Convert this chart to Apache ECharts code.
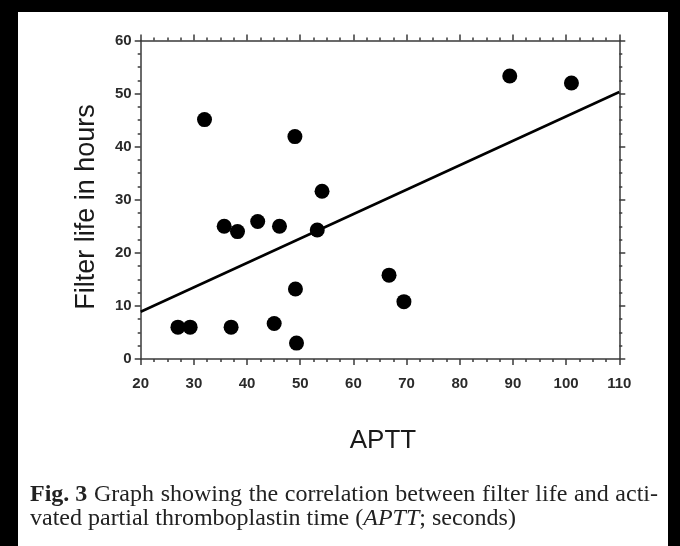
<!DOCTYPE html>
<html>
<head>
<meta charset="utf-8">
<script src="https://cdn.jsdelivr.net/npm/echarts@6/dist/echarts.min.js"></script>
<style>
html,body{margin:0;padding:0;background:#000;}
#chart{width:680px;height:546px;}
</style>
</head>
<body>
<div id="chart"></div>
<script>
// Data
var aptt = [27, 29.3, 37, 35.7, 38.2, 42.0, 46.1, 53.2, 49.1, 45.1, 49.3, 32.0, 49.0, 54.1, 66.7, 69.5, 89.4, 101.0];
var filterLife = [6, 6, 6, 25, 24, 25.9, 25, 24.3, 13.2, 6.7, 3.0, 45.1, 41.9, 31.6, 15.8, 10.8, 53.3, 52.0];
var fitX = [20, 110];
var fitY = [8.9, 50.3];
var xTicks = [20, 30, 40, 50, 60, 70, 80, 90, 100, 110];
var yTicks = [0, 10, 20, 30, 40, 50, 60];
var xTitle = 'APTT';
var yTitle = 'Filter life in hours';
var captionBold = 'Fig. 3';
var captionLine1 = 'Graph showing the correlation between filter life and acti-';
var captionLine2a = 'vated partial thromboplastin time (';
var captionLine2b = 'APTT';
var captionLine2c = '; seconds)';

var points = aptt.map(function (x, i) { return [x, filterLife[i]]; });
var fit = fitX.map(function (x, i) { return [x, fitY[i]]; });

var axisColor = '#3a3a3a';
function xAxisDef(pos, showLabel) {
  return {
    type: 'value', position: pos, min: xTicks[0], max: xTicks[xTicks.length - 1], interval: 10,
    axisLine: { show: true, onZero: false, lineStyle: { color: axisColor, width: 1.5 } },
    axisTick: { show: true, inside: false, length: 6, lineStyle: { color: axisColor, width: 1.5 } },
    minorTick: { show: true, splitNumber: 4, length: 3, lineStyle: { color: axisColor, width: 1.5 } },
    splitLine: { show: false },
    axisLabel: { show: showLabel, margin: 17, color: '#2a2a2a', fontFamily: 'Liberation Sans, Arial', fontWeight: 'bold', fontSize: 15 }
  };
}
function yAxisDef(pos, showLabel) {
  return {
    type: 'value', position: pos, min: yTicks[0], max: yTicks[yTicks.length - 1], interval: 10,
    axisLine: { show: true, onZero: false, lineStyle: { color: axisColor, width: 1.5 } },
    axisTick: { show: true, inside: false, length: 6, lineStyle: { color: axisColor, width: 1.5 } },
    minorTick: { show: true, splitNumber: 4, length: 3, lineStyle: { color: axisColor, width: 1.5 } },
    splitLine: { show: false },
    axisLabel: { show: showLabel, margin: 9, color: '#2a2a2a', fontFamily: 'Liberation Sans, Arial', fontWeight: 'bold', fontSize: 15 }
  };
}

// Justify caption line 1 between left and right edges
var capSize = 24;
var capFont = capSize + 'px "Liberation Serif"';
var capBoldFont = 'bold ' + capSize + 'px "Liberation Serif"';
var ctx = document.createElement('canvas').getContext('2d');
var words = [{ t: captionBold, bold: true }].concat(captionLine1.split(' ').map(function (w) { return { t: w, bold: false }; }));
var widths = words.map(function (w) { ctx.font = w.bold ? capBoldFont : capFont; return ctx.measureText(w.t).width; });
var leftEdge = 30, rightEdge = 658;
var total = widths.reduce(function (a, b) { return a + b; }, 0);
var gap = Math.max(4, (rightEdge - leftEdge - total) / (words.length - 1));
var capGraphics = [];
var cx = leftEdge;
words.forEach(function (w, i) {
  capGraphics.push({ type: 'text', x: cx, y: 495, style: { text: w.t, font: w.bold ? capBoldFont : capFont, fill: '#222', textVerticalAlign: 'middle' } });
  cx += widths[i] + gap;
});
capGraphics.push({ type: 'text', x: 30, y: 519, style: { rich: {
    n: { fontFamily: 'Liberation Serif', fontSize: capSize, fill: '#222' },
    i: { fontFamily: 'Liberation Serif', fontStyle: 'italic', fontSize: capSize, fill: '#222' }
  }, text: '{n|' + captionLine2a + '}{i|' + captionLine2b + '}{n|' + captionLine2c + '}', textVerticalAlign: 'middle' } });

var chart = echarts.init(document.getElementById('chart'), null, { renderer: 'canvas' });
chart.setOption({
  backgroundColor: '#000',
  animation: false,
  grid: { left: 140.7, right: 60.7, top: 40.5, bottom: 187, containLabel: false },
  xAxis: [xAxisDef('bottom', true), xAxisDef('top', false)],
  yAxis: [yAxisDef('left', true), yAxisDef('right', false)],
  graphic: [
    { type: 'rect', z: -10, shape: { x: 18, y: 12, width: 650, height: 534 }, style: { fill: '#fff' } },
    { type: 'text', x: 383, y: 441, style: { text: xTitle, font: '26px "Liberation Sans", Arial', fill: '#1a1a1a', textAlign: 'center', textVerticalAlign: 'middle' } },
    { type: 'text', x: 87, y: 207, rotation: Math.PI / 2, style: { text: yTitle, font: '27px "Liberation Sans", Arial', fill: '#1a1a1a', textAlign: 'center', textVerticalAlign: 'middle' } }
  ].concat(capGraphics),
  series: [
    { type: 'line', data: fit, symbol: 'none', lineStyle: { color: '#000', width: 2.5 }, z: 2 },
    { type: 'scatter', data: points, symbol: 'circle', symbolSize: 15, itemStyle: { color: '#000', opacity: 1 }, z: 3 }
  ]
});
</script>
</body>
</html>
